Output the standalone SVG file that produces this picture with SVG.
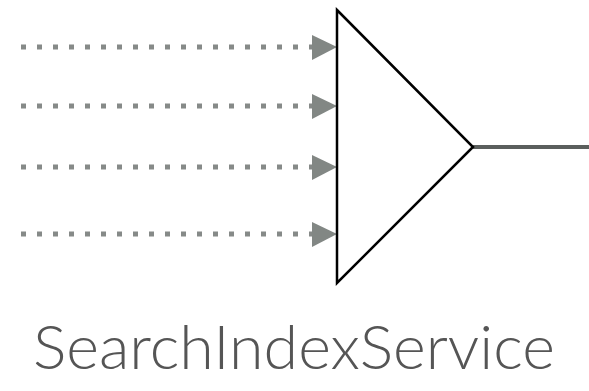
<svg xmlns="http://www.w3.org/2000/svg" width="589" height="391" viewBox="0 0 589 391">
<style>
.in{stroke:#868a88;stroke-width:5;stroke-dasharray:5 11;fill:none}
.head{fill:#828784}
.tri{fill:#fff;stroke:#000;stroke-width:2.5;stroke-linejoin:miter}
.out{stroke:#5b5f5d;stroke-width:4;fill:none}
.lbl{font-family:Lato,"Open Sans","Liberation Sans",sans-serif;font-weight:300;font-size:62px;fill:#555}
</style>
<rect width="589" height="391" fill="#fff"/>
<g id="connectors">
<line class="in" x1="21" y1="47" x2="312" y2="47"/>
<polygon class="head" points="312,35 337,47 312,60"/>
<line class="in" x1="21" y1="106" x2="312" y2="106"/>
<polygon class="head" points="312,94 337,106 312,119"/>
<line class="in" x1="21" y1="167" x2="312" y2="167"/>
<polygon class="head" points="312,155 337,167 312,180"/>
<line class="in" x1="21" y1="234" x2="312" y2="234"/>
<polygon class="head" points="312,222 337,234 312,247"/>
<line class="out" x1="473" y1="147" x2="589" y2="147"/>
</g>
<g id="SearchIndexService">
<polygon class="tri" points="337,10 473,147 337,283"/>
<text class="lbl" x="33" y="369" textLength="522" lengthAdjust="spacingAndGlyphs">SearchIndexService</text>
</g>
</svg>
